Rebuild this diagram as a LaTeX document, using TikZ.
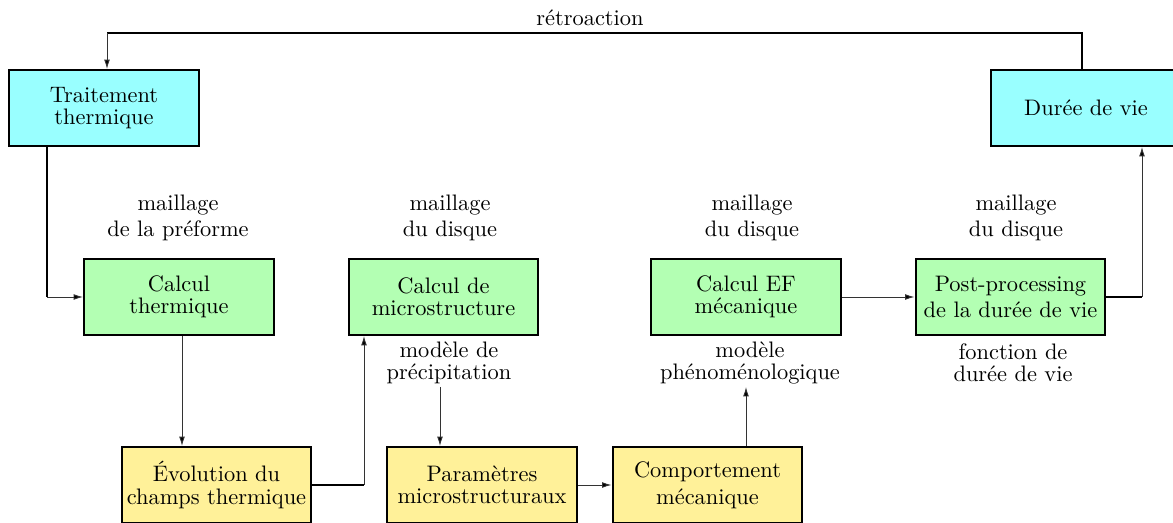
\documentclass[tikz,border=0pt]{standalone}
\usepackage{fontspec}
\usetikzlibrary{arrows.meta,calc}
\definecolor{cyanf}{RGB}{153,255,255}
\definecolor{greenf}{RGB}{179,255,179}
\definecolor{yellowf}{RGB}{255,241,153}
\begin{document}
\begin{tikzpicture}[x=0.4464pt,y=-0.4464pt,
  box/.style={draw, line width=0.9pt, minimum width=84.8pt, minimum height=33.9pt,
    inner sep=0pt, align=center, font=\fontsize{10}{10}\selectfont},
  wide/.style={font=\fontsize{10}{12}\selectfont},
  lab/.style={align=center, inner sep=1pt, font=\fontsize{10}{10}\selectfont},
  labw/.style={align=center, inner sep=1pt, font=\fontsize{10}{11.6}\selectfont},
  thin/.style={line width=0.4pt, draw=black!80, -{Latex[length=4.2pt,width=2.6pt,fill=black]}},
  thk/.style={line width=0.9pt}]
\useasboundingbox (0,0) rectangle (1173,523);
% boxes
\node[box,fill=cyanf] (trait) at (104,108) {Traitement\\thermique};
\node[box,fill=cyanf] (duree) at (1086,108) {Durée de vie};
\node[box,fill=greenf] (cth) at (179,297) {Calcul\\thermique};
\node[box,fill=greenf] (cmi) at (443.5,297) {Calcul de\\microstructure};
\node[box,fill=greenf] (cef) at (746,297) {Calcul EF\\mécanique};
\node[box,fill=greenf,wide] (post) at (1010.5,297) {Post-processing\\de la durée de vie};
\node[box,fill=yellowf] (evo) at (216.5,485) {Évolution du\\champs thermique};
\node[box,fill=yellowf] (par) at (482,485) {Paramètres\\microstructuraux};
\node[box,fill=yellowf,wide] (comp) at (707.5,485) {Comportement\\mécanique};
% labels
\node[lab] (retro) at (590,18) {rétroaction};
\node[labw] (m1) at (178,218) {maillage\\de la préforme};
\node[labw] (m2) at (450,218) {maillage\\du disque};
\node[labw] (m3) at (752,218) {maillage\\du disque};
\node[labw] (m4) at (1016,218) {maillage\\du disque};
\node[lab] (prec) at (449,363) {modèle de\\précipitation};
\node[lab] (phen) at (750,363) {modèle\\phénoménologique};
\node[lab] (fonc) at (1013,363) {fonction de\\durée de vie};
% coordinates
\coordinate (top1) at ($(duree.north)+(-4,0)$);
\coordinate (top2) at ($(trait.north)+(3,0)$);
\coordinate (tb) at ($(trait.south)+(-57,0)$);
\coordinate (cs) at ($(cth.south)+(3,0)$);
\coordinate (ev) at ($(cmi.south)+(-79.5,0)$);
\coordinate (pa) at ($(par.north)+(-42,0)$);
\coordinate (pd) at ($(duree.south)+(56,0)$);
% feedback loop
\draw[thk] (top1) -- (top1 |- 0,33) -- (top2 |- 0,33);
\draw[thin] (top2 |- 0,33) -- (top2);
% Traitement -> Calcul thermique
\draw[thk] (tb) -- (tb |- cth.west);
\draw[thin] (tb |- cth.west) -- (cth.west);
% Calcul thermique -> Evolution
\draw[thin] (cs) -- (evo.north -| cs);
% Evolution -> Calcul de microstructure
\draw[thk] (evo.east) -- (evo.east -| ev);
\draw[thin] (evo.east -| ev) -- (ev);
% precipitation -> Parametres
\draw[thin] (pa |- prec.south) -- (pa);
% Parametres -> Comportement
\draw[thin] (par.east) -- (comp.west);
% Comportement -> phenomenologique
\draw[thin] (comp.north -| cef.south) -- (cef.south |- phen.south);
% Calcul EF -> Post-processing
\draw[thin] (cef.east) -- (post.west);
% Post-processing -> Duree de vie
\draw[thk] (post.east) -- (post.east -| pd);
\draw[thin] (post.east -| pd) -- (pd);
\end{tikzpicture}
\end{document}
